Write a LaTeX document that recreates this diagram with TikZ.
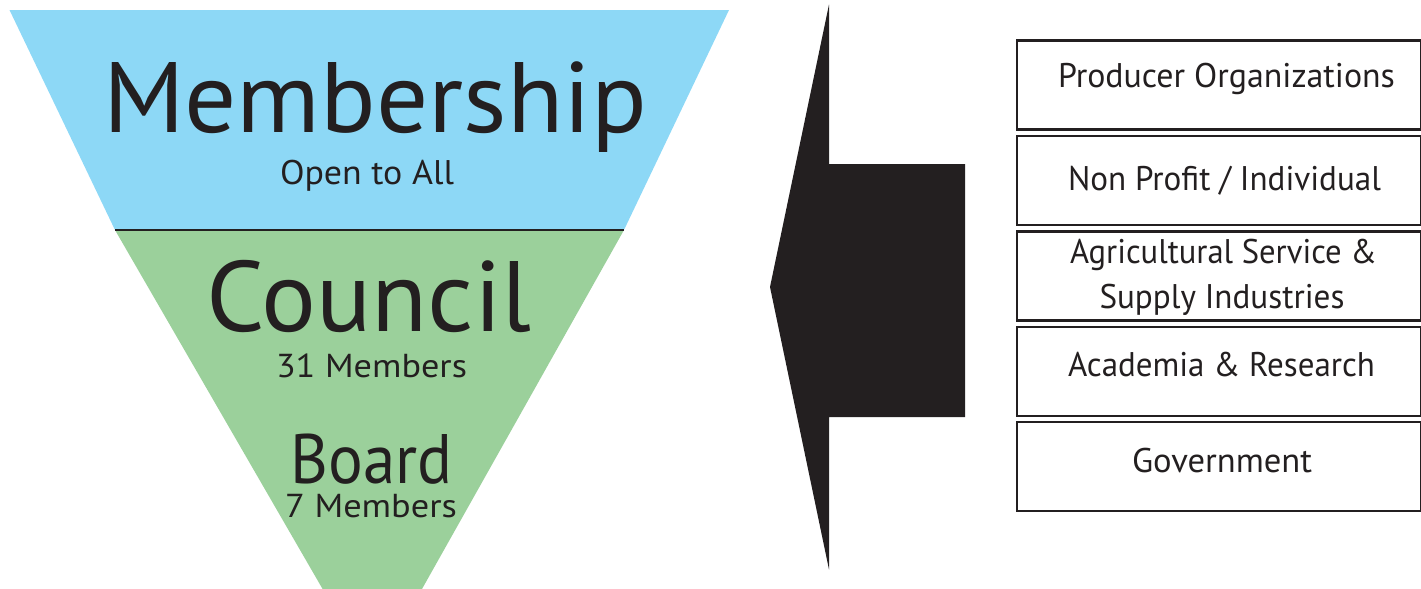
\documentclass[tikz,border=0pt]{standalone}
\usepackage{fontspec}
\usepackage{graphicx}
\setmainfont{PT Sans}
\definecolor{ink}{HTML}{231F20}
\definecolor{skyb}{RGB}{141,216,246}
\definecolor{leaf}{RGB}{155,208,155}
\newcommand\fitw[3]{{\fontsize{#1}{#1}\selectfont\setbox0=\hbox{#3}\edef\fitwd{\the\wd0}\pgfmathsetmacro\fitr{#2/\fitwd}\scalebox{\fitr}[1]{\box0}}}
\begin{document}
\begin{tikzpicture}[x=0.5pt,y=-0.5pt,
  txt/.style={inner sep=0pt, outer sep=0pt, anchor=base, text=ink},
  catbox/.style={draw=ink, line width=1.25pt, fill=none, inner sep=0pt, minimum width=202pt, minimum height=44.5pt}]
\useasboundingbox (0,0) rectangle (1421,589);
% funnel
\fill[skyb] (9.5,10) -- (729,10) -- (624,230) -- (115,230) -- cycle;
\fill[leaf] (115,230) -- (624,230) -- (422,589) -- (322.6,589) -- cycle;
\coordinate (divL) at (115,230);
\coordinate (divR) at (624,230);
\draw[ink, line width=1.3pt] (divL) -- (divR);
% funnel texts
\node[txt] (memb) at (375,132) {\fitw{50}{272}{Membership}};
\node[txt] (open) at (367,184) {\fitw{17.1}{87}{Open to All}};
\node[txt] (coun) at (369,331) {\fitw{50}{162.5}{Council}};
\node[txt] (cmem) at (371.5,377) {\fitw{16.6}{95.5}{31 Members}};
\node[txt] (boar) at (371.7,483) {\fitw{35}{81}{Board}};
\node[txt] (bmem) at (371,517.5) {\fitw{16.6}{86}{7 Members}};
% arrow
\fill[ink] (829,4.5) -- (770,287) -- (829,569.5) -- (829,417) -- (965,417) -- (965,164) -- (829,164) -- cycle;
% boxes
\node[catbox] (b1) at (1219,85) {};
\node[catbox] (b2) at (1219,180.5) {};
\node[catbox] (b3) at (1219,276) {};
\node[catbox] (b4) at (1219,371.5) {};
\node[catbox] (b5) at (1219,466.5) {};
\node[txt] (t1) at (1226.5,87) {\fitw{17.1}{168.5}{Producer Organizations}};
\node[txt] (t2) at (1224.5,190) {\fitw{17.1}{156.5}{Non Profit / Individual}};
\node[txt] (t3a) at (1223.5,263) {\fitw{17.1}{153.5}{Agricultural Service \&}};
\node[txt] (t3b) at (1222,308) {\fitw{17.1}{122.5}{Supply Industries}};
\node[txt] (t4) at (1221.5,376) {\fitw{17.1}{153.5}{Academia \& Research}};
\node[txt] (t5) at (1222,472) {\fitw{17.1}{90}{Government}};
\end{tikzpicture}
\end{document}
